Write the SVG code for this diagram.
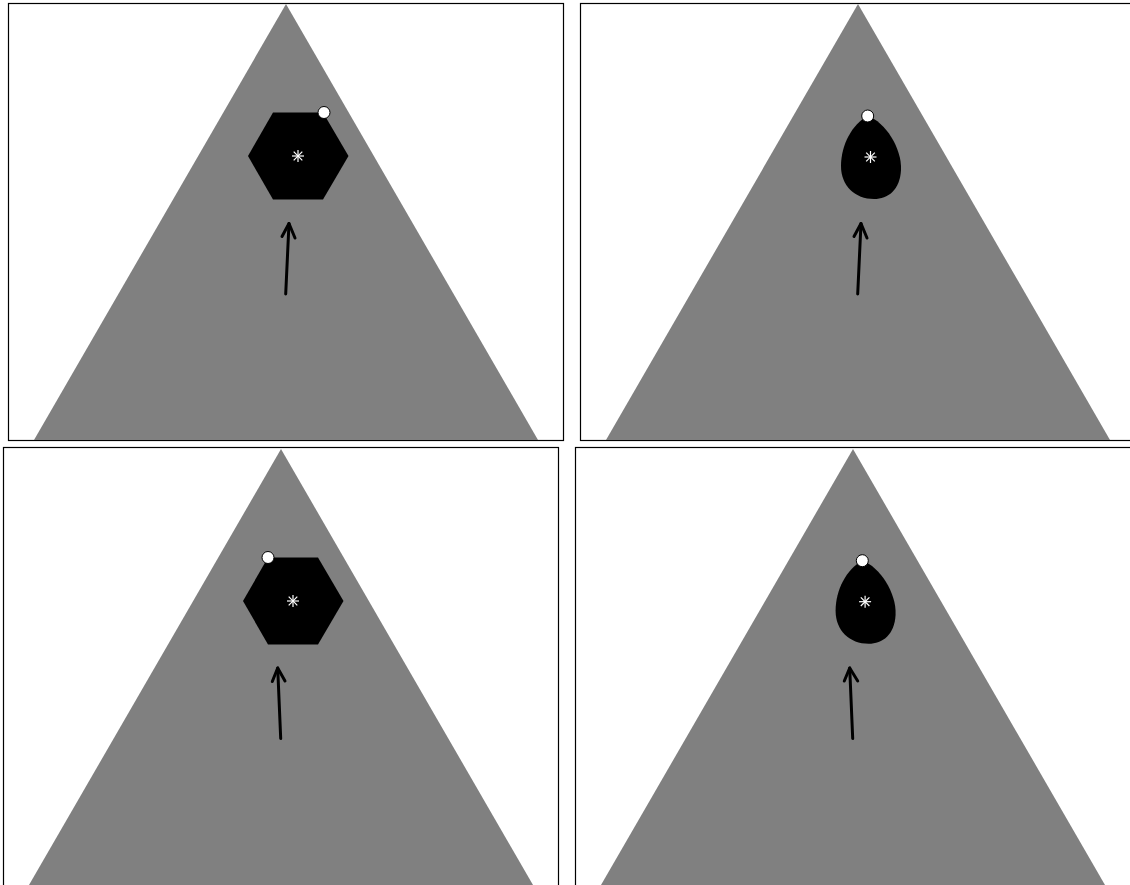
<svg xmlns="http://www.w3.org/2000/svg" width="1130" height="885" viewBox="0 0 1130 885">
<style>
.frame{fill:#fff;stroke:#000;stroke-width:1.2}
.tri{fill:#808080;stroke:none}
.shape{fill:#000;stroke:none}
.dot{fill:#fff;stroke:#000;stroke-width:1}
.ast{stroke:#fff;stroke-width:1.2;fill:none}
.arrow{stroke:#000;stroke-width:3;fill:none;stroke-linecap:round;stroke-linejoin:round}
</style>
<defs>
<g id="astk">
<line class="ast" x1="0" y1="-6" x2="0" y2="6"/>
<line class="ast" x1="-6" y1="0" x2="6" y2="0"/>
<line class="ast" x1="-4.3" y1="-4.3" x2="4.3" y2="4.3"/>
<line class="ast" x1="-4.3" y1="4.3" x2="4.3" y2="-4.3"/>
</g>
<path id="egg" d="M 868,116 C 885,122 902,148 901,170 C 900,190 888,199 874,199 C 855,199 841,186 841,166 C 841,145 852,124 868,116 Z"/>
</defs>
<rect width="1130" height="885" fill="#fff"/>
<g id="panel1">
<rect class="frame" x="8.5" y="3.5" width="555" height="437"/>
<polygon class="tri" points="286,4 538,440 34,440"/>
<polygon class="shape" points="248,156 273,112.5 323,112.5 348.5,156 323,199.5 273,199.5"/>
<use href="#astk" x="298" y="156"/>
<circle class="dot" cx="324" cy="112.5" r="6"/>
</g>
<g id="panel2">
<rect class="frame" x="580.5" y="3.5" width="560" height="437"/>
<polygon class="tri" points="858,4 1110,440 606,440"/>
<use href="#egg" class="shape"/>
<use href="#astk" x="870.5" y="157"/>
<circle class="dot" cx="867.7" cy="116" r="6"/>
</g>
<g id="panel3">
<rect class="frame" x="3.5" y="447.5" width="555" height="445"/>
<polygon class="tri" points="281,449 533,885 29,885"/>
<polygon class="shape" points="243,601 268,557.5 318,557.5 343.5,601 318,644.5 268,644.5"/>
<use href="#astk" x="293" y="601"/>
<circle class="dot" cx="268" cy="557.5" r="6"/>
</g>
<g id="panel4">
<rect class="frame" x="575.5" y="447.5" width="565" height="445"/>
<polygon class="tri" points="853,449 1105,885 601,885"/>
<use href="#egg" class="shape" x="-5.4" y="444.7"/>
<use href="#astk" x="865.1" y="601.7"/>
<circle class="dot" cx="862.3" cy="560.7" r="6"/>
</g>
<g id="connectors">
<line class="arrow" x1="285.7" y1="294" x2="289" y2="223.5"/>
<polyline class="arrow" points="282,236.5 289,223.5 295,238"/>
<line class="arrow" x1="857.7" y1="294" x2="861" y2="223.5"/>
<polyline class="arrow" points="854,236.5 861,223.5 867,238"/>
<line class="arrow" x1="280.7" y1="738.5" x2="277.7" y2="668"/>
<polyline class="arrow" points="272.3,681.5 277.7,668 285,681"/>
<line class="arrow" x1="852.7" y1="738.5" x2="849.7" y2="668"/>
<polyline class="arrow" points="844.3,681 849.7,668 857.7,681"/>
</g>
</svg>
